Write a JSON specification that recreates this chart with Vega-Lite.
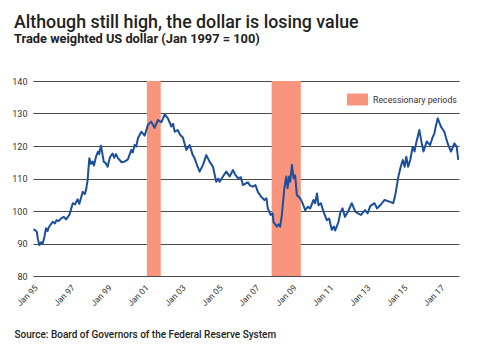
{
  "$schema": "https://vega.github.io/schema/vega-lite/v6.json",
  "autosize": {"type": "none"},
  "width": 426,
  "height": 195,
  "padding": {"left": 33, "top": 81, "right": 21, "bottom": 77},
  "background": "white",
  "title": {
    "text": "Although still high, the dollar is losing value",
    "subtitle": "Trade weighted US dollar (Jan 1997 = 100)",
    "anchor": "start",
    "frame": "group",
    "dx": -19,
    "offset": 31,
    "font": "Roboto",
    "fontSize": 17.8,
    "fontWeight": 500,
    "color": "#222222",
    "subtitleFont": "Roboto",
    "subtitleFontSize": 12.8,
    "subtitleFontWeight": "bold",
    "subtitleColor": "#222222",
    "subtitlePadding": 1
  },
  "datasets": {
    "dollar": [
      {"date": "1995-01-10", "value": 94.4},
      {"date": "1995-02-20", "value": 94.0},
      {"date": "1995-03-20", "value": 93.5},
      {"date": "1995-04-05", "value": 91.5},
      {"date": "1995-05-08", "value": 89.5},
      {"date": "1995-06-10", "value": 90.4},
      {"date": "1995-07-12", "value": 90.0},
      {"date": "1995-08-15", "value": 92.1},
      {"date": "1995-09-15", "value": 94.7},
      {"date": "1995-10-15", "value": 93.8},
      {"date": "1995-11-10", "value": 95.0},
      {"date": "1996-01-25", "value": 96.7},
      {"date": "1996-03-10", "value": 96.2},
      {"date": "1996-04-10", "value": 97.2},
      {"date": "1996-05-20", "value": 96.9},
      {"date": "1996-07-08", "value": 97.7},
      {"date": "1996-09-01", "value": 98.2},
      {"date": "1996-10-15", "value": 97.4},
      {"date": "1996-12-20", "value": 98.8},
      {"date": "1997-02-25", "value": 102.4},
      {"date": "1997-04-10", "value": 102.0},
      {"date": "1997-06-01", "value": 103.6},
      {"date": "1997-07-05", "value": 102.2},
      {"date": "1997-09-10", "value": 105.9},
      {"date": "1997-10-20", "value": 105.2},
      {"date": "1997-11-15", "value": 106.5},
      {"date": "1997-12-15", "value": 109.5},
      {"date": "1998-01-18", "value": 116.2},
      {"date": "1998-02-20", "value": 114.5},
      {"date": "1998-03-25", "value": 115.2},
      {"date": "1998-04-20", "value": 114.0},
      {"date": "1998-05-30", "value": 116.7},
      {"date": "1998-07-10", "value": 118.3},
      {"date": "1998-08-01", "value": 117.5},
      {"date": "1998-09-05", "value": 120.1},
      {"date": "1998-10-30", "value": 115.2},
      {"date": "1998-12-10", "value": 114.7},
      {"date": "1999-01-15", "value": 113.6},
      {"date": "1999-03-01", "value": 116.5},
      {"date": "1999-04-22", "value": 117.7},
      {"date": "1999-05-25", "value": 116.4},
      {"date": "1999-06-28", "value": 117.5},
      {"date": "1999-08-10", "value": 116.2},
      {"date": "1999-09-10", "value": 115.7},
      {"date": "1999-10-20", "value": 115.0},
      {"date": "1999-12-15", "value": 115.2},
      {"date": "2000-02-20", "value": 115.9},
      {"date": "2000-04-27", "value": 118.8},
      {"date": "2000-05-25", "value": 118.0},
      {"date": "2000-07-01", "value": 120.3},
      {"date": "2000-08-01", "value": 119.8},
      {"date": "2000-09-05", "value": 122.4},
      {"date": "2000-11-10", "value": 124.4},
      {"date": "2001-01-15", "value": 123.2},
      {"date": "2001-03-22", "value": 126.5},
      {"date": "2001-05-26", "value": 127.5},
      {"date": "2001-07-30", "value": 125.6},
      {"date": "2001-10-05", "value": 128.0},
      {"date": "2001-12-12", "value": 127.3},
      {"date": "2002-02-17", "value": 129.7},
      {"date": "2002-04-20", "value": 128.5},
      {"date": "2002-06-28", "value": 126.0},
      {"date": "2002-08-01", "value": 126.8},
      {"date": "2002-09-02", "value": 124.4},
      {"date": "2002-11-03", "value": 124.9},
      {"date": "2002-12-20", "value": 123.4},
      {"date": "2003-02-10", "value": 122.6},
      {"date": "2003-04-20", "value": 118.8},
      {"date": "2003-06-25", "value": 120.3},
      {"date": "2003-08-25", "value": 117.2},
      {"date": "2003-10-01", "value": 116.2},
      {"date": "2003-11-20", "value": 114.0},
      {"date": "2004-01-08", "value": 112.1},
      {"date": "2004-03-14", "value": 114.2},
      {"date": "2004-05-18", "value": 117.2},
      {"date": "2004-07-22", "value": 115.2},
      {"date": "2004-09-27", "value": 113.6},
      {"date": "2004-12-01", "value": 109.0},
      {"date": "2005-01-10", "value": 110.0},
      {"date": "2005-02-06", "value": 109.0},
      {"date": "2005-04-12", "value": 110.6},
      {"date": "2005-06-17", "value": 112.1},
      {"date": "2005-08-22", "value": 110.6},
      {"date": "2005-10-27", "value": 112.6},
      {"date": "2005-12-10", "value": 111.2},
      {"date": "2006-02-03", "value": 110.1},
      {"date": "2006-04-01", "value": 110.4},
      {"date": "2006-05-12", "value": 108.0},
      {"date": "2006-08-18", "value": 108.8},
      {"date": "2006-10-01", "value": 107.8},
      {"date": "2006-11-25", "value": 107.5},
      {"date": "2007-01-15", "value": 108.0},
      {"date": "2007-03-03", "value": 105.9},
      {"date": "2007-05-08", "value": 104.4},
      {"date": "2007-07-12", "value": 103.4},
      {"date": "2007-08-20", "value": 103.9},
      {"date": "2007-09-16", "value": 100.8},
      {"date": "2007-11-10", "value": 98.8},
      {"date": "2007-12-20", "value": 99.3},
      {"date": "2008-01-08", "value": 96.5},
      {"date": "2008-02-10", "value": 95.9},
      {"date": "2008-03-14", "value": 95.2},
      {"date": "2008-04-15", "value": 95.9},
      {"date": "2008-05-18", "value": 95.2},
      {"date": "2008-06-20", "value": 98.8},
      {"date": "2008-08-08", "value": 107.0},
      {"date": "2008-09-16", "value": 110.6},
      {"date": "2008-10-10", "value": 107.0},
      {"date": "2008-11-10", "value": 110.6},
      {"date": "2008-12-02", "value": 109.0},
      {"date": "2009-01-05", "value": 114.2},
      {"date": "2009-02-06", "value": 110.1},
      {"date": "2009-03-10", "value": 111.0},
      {"date": "2009-04-12", "value": 104.9},
      {"date": "2009-06-17", "value": 103.9},
      {"date": "2009-08-01", "value": 102.5},
      {"date": "2009-09-24", "value": 100.3},
      {"date": "2009-11-15", "value": 101.3},
      {"date": "2010-01-01", "value": 100.8},
      {"date": "2010-03-07", "value": 103.4},
      {"date": "2010-04-09", "value": 102.4},
      {"date": "2010-05-15", "value": 105.4},
      {"date": "2010-06-14", "value": 101.8},
      {"date": "2010-08-01", "value": 102.4},
      {"date": "2010-09-20", "value": 99.8},
      {"date": "2010-11-25", "value": 97.2},
      {"date": "2011-01-10", "value": 97.7},
      {"date": "2011-03-03", "value": 94.2},
      {"date": "2011-04-15", "value": 95.2},
      {"date": "2011-05-08", "value": 94.0},
      {"date": "2011-07-12", "value": 96.5},
      {"date": "2011-08-20", "value": 99.5},
      {"date": "2011-10-01", "value": 100.8},
      {"date": "2011-11-20", "value": 98.2},
      {"date": "2012-01-25", "value": 100.0},
      {"date": "2012-04-01", "value": 102.4},
      {"date": "2012-06-10", "value": 99.8},
      {"date": "2012-08-01", "value": 99.3},
      {"date": "2012-10-01", "value": 98.8},
      {"date": "2012-12-20", "value": 100.3},
      {"date": "2013-02-10", "value": 99.3},
      {"date": "2013-04-01", "value": 101.5},
      {"date": "2013-06-25", "value": 102.4},
      {"date": "2013-08-15", "value": 100.8},
      {"date": "2013-10-31", "value": 102.0},
      {"date": "2014-01-10", "value": 103.4},
      {"date": "2014-04-15", "value": 102.9},
      {"date": "2014-07-01", "value": 102.4},
      {"date": "2014-08-15", "value": 105.4},
      {"date": "2014-10-10", "value": 110.6},
      {"date": "2014-11-25", "value": 113.6},
      {"date": "2015-01-05", "value": 115.7},
      {"date": "2015-02-10", "value": 113.6},
      {"date": "2015-03-15", "value": 116.7},
      {"date": "2015-04-20", "value": 113.6},
      {"date": "2015-06-01", "value": 115.7},
      {"date": "2015-07-20", "value": 119.8},
      {"date": "2015-08-25", "value": 118.3},
      {"date": "2015-09-25", "value": 120.8},
      {"date": "2015-11-28", "value": 124.9},
      {"date": "2016-01-15", "value": 120.8},
      {"date": "2016-02-18", "value": 118.3},
      {"date": "2016-04-22", "value": 121.4},
      {"date": "2016-06-28", "value": 120.3},
      {"date": "2016-08-10", "value": 122.4},
      {"date": "2016-09-20", "value": 123.9},
      {"date": "2016-10-25", "value": 126.5},
      {"date": "2016-11-25", "value": 128.5},
      {"date": "2017-01-30", "value": 125.9},
      {"date": "2017-04-05", "value": 124.4},
      {"date": "2017-06-10", "value": 120.8},
      {"date": "2017-08-15", "value": 118.3},
      {"date": "2017-10-20", "value": 120.8},
      {"date": "2017-12-05", "value": 119.8},
      {"date": "2018-01-05", "value": 115.7}
    ],
    "recessions": [
      {"start": "2001-03-01", "end": "2001-11-30", "label": "Recessionary periods"},
      {"start": "2007-12-01", "end": "2009-06-30", "label": "Recessionary periods"}
    ]
  },
  "layer": [
    {
      "data": {"name": "recessions"},
      "mark": {"type": "rect", "opacity": 1},
      "encoding": {
        "x": {"field": "start", "type": "temporal"},
        "x2": {"field": "end"},
        "color": {
          "field": "label",
          "type": "nominal",
          "scale": {"range": ["#f8957c"]},
          "legend": {
            "title": null,
            "orient": "none",
            "legendX": 314,
            "legendY": 8,
            "padding": 0,
            "symbolType": "M-1,-0.57H1V0.57H-1Z",
            "symbolSize": 441,
            "symbolOpacity": 1,
            "symbolStrokeWidth": 0,
            "labelFont": "Roboto",
            "labelFontSize": 8.8,
            "labelColor": "#333333",
            "labelOffset": 5
          }
        }
      }
    },
    {
      "data": {"name": "dollar"},
      "mark": {"type": "line", "color": "#1b4f9c", "strokeWidth": 2, "strokeJoin": "round"},
      "encoding": {
        "x": {
          "field": "date",
          "type": "temporal",
          "scale": {"domain": ["1995-01-01", "2018-01-20"], "nice": false},
          "axis": {
            "title": "Source: Board of Governors of the Federal Reserve System",
            "titleFont": "Roboto",
            "titleFontSize": 10,
            "titleFontWeight": 500,
            "titleColor": "#222222",
            "titleAnchor": "start",
            "titleAlign": "left",
            "titleBaseline": "alphabetic",
            "titleX": -19,
            "titleY": 61,
            "format": "%b %y",
            "tickCount": 30,
            "values": [
              {"year": 1995, "month": 1, "date": 1},
              {"year": 1997, "month": 1, "date": 1},
              {"year": 1999, "month": 1, "date": 1},
              {"year": 2001, "month": 1, "date": 1},
              {"year": 2003, "month": 1, "date": 1},
              {"year": 2005, "month": 1, "date": 1},
              {"year": 2007, "month": 1, "date": 1},
              {"year": 2009, "month": 1, "date": 1},
              {"year": 2011, "month": 1, "date": 1},
              {"year": 2013, "month": 1, "date": 1},
              {"year": 2015, "month": 1, "date": 1},
              {"year": 2017, "month": 1, "date": 1}
            ],
            "labelAngle": -45,
            "labelFont": "Roboto",
            "labelFontSize": 8.5,
            "labelColor": "#333333",
            "labelPadding": 7,
            "labelOverlap": false,
            "labelBound": false,
            "grid": false,
            "ticks": false,
            "domain": false
          }
        },
        "y": {
          "field": "value",
          "type": "quantitative",
          "scale": {"domain": [80, 140], "nice": false, "zero": false},
          "axis": {
            "title": null,
            "values": [80, 90, 100, 110, 120, 130, 140],
            "labelFont": "Roboto",
            "labelFontSize": 9,
            "labelColor": "#333333",
            "labelPadding": 6,
            "grid": true,
            "gridColor": "#4a4a4a",
            "gridWidth": 1,
            "ticks": false,
            "domain": false
          }
        }
      }
    }
  ],
  "config": {
    "view": {"stroke": null},
    "axisX": {"labelOverlap": false}
  }
}
